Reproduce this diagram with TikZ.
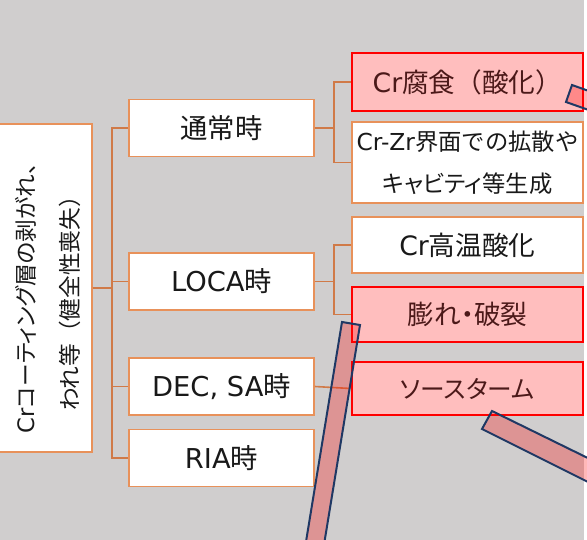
\documentclass[tikz,border=0pt]{standalone}
\usepackage{fontspec}
\setmainfont{Noto Sans CJK JP}
\newfontfamily\jp[RawFeature=+palt]{Noto Sans CJK JP}
\newfontfamily\lat{DejaVu Sans}
\usetikzlibrary{calc}
\definecolor{bg}{RGB}{208,206,206}
\definecolor{obord}{RGB}{232,145,90}
\definecolor{oline}{RGB}{208,122,72}
\definecolor{pinkfill}{RGB}{255,190,190}
\definecolor{redtext}{RGB}{75,25,25}
\definecolor{navy}{RGB}{31,56,100}
\tikzset{
  wbox/.style={draw=obord, line width=1.2pt, fill=white, inner sep=0pt, text=black!90},
  rbox/.style={draw=red, line width=2pt, fill=pinkfill, inner sep=0pt, text=redtext},
  midbox/.style={wbox, minimum width=138.75pt, minimum height=42.75pt, font=\fontsize{20.5}{24}\selectfont},
  rwide/.style={minimum width=173.25pt, font=\fontsize{20}{24}\selectfont},
  conn/.style={draw=oline, line width=1.2pt},
  bar/.style={draw=navy, line width=1.5pt, fill=red, fill opacity=0.28},
}
\begin{document}
\begin{tikzpicture}[x=0.75pt,y=-0.75pt]
\useasboundingbox (0,0) rectangle (587,540);
\clip (0,0) rectangle (587,540);
\fill[white] (0,0) rectangle (587,540);
\fill[bg] (0,0) rectangle (584,540);

% root
\node[wbox, minimum width=72.75pt, minimum height=246pt] (root) at (43.5,288) {};
\node[rotate=90, align=center, font=\fontsize{17}{33}\selectfont, text=black!90] (roottext) at (48,298)
  {{\lat Cr}{\jp コーティング層の剥がれ、}\\われ等（健全性喪失）};

% middle column
\node[midbox] (tsujo) at (221.5,128) {通常時};
\node[midbox] (loca) at (221.5,281.5) {{\lat LOCA}時};
\node[midbox] (dec) at (221.5,386.5) {{\lat DEC, SA}時};
\node[midbox] (ria) at (221.5,458) {{\lat RIA}時};

% right column
\node[rbox, rwide, minimum height=43.5pt] (crf) at (467.5,82) {{\lat Cr}腐食（酸化）};
\node[wbox, rwide, minimum height=60.75pt, align=center, font=\fontsize{17.5}{31.5}\selectfont] (crzr) at (467.5,162.5)
  {{\lat Cr-Zr}界面での拡散や\\{\jp キャビティ等生成}};
\node[wbox, rwide, minimum height=42pt] (crht) at (467.5,245) {{\lat Cr}高温酸化};
\node[rbox, rwide, minimum height=41.25pt] (fukure) at (467.5,314.5) {{\jp 膨れ・破裂}};
\node[rbox, rwide, minimum height=39.75pt, font=\fontsize{18.5}{24}\selectfont] (source) at (467.5,388.5) {{\jp ソースターム}};

% connectors
\draw[conn] (root.east) -- +(19,0) |- (tsujo.west);
\draw[conn] (root.east) -- +(19,0) |- (loca.west);
\draw[conn] (root.east) -- +(19,0) |- (dec.west);
\draw[conn] (root.east) -- +(19,0) |- (ria.west);
\draw[conn] (tsujo.east) -- +(19,0) |- (crf.west);
\draw[conn] (tsujo.east) -- +(19,0) |- (crzr.west);
\draw[conn] (loca.east) -- +(19,0) |- (crht.west);
\draw[conn] (loca.east) -- +(19,0) |- (fukure.west);
\draw[conn] (dec.east) -- (source.west);

% cut-off bars
\draw[bar] (342,322) -- (303,560) -- (321,563) -- (360,325) -- cycle;
\draw[bar] (492,411) -- (600,464) -- (600,488) -- (482,429) -- cycle;
\draw[bar] (572,85) -- (600,95) -- (600,114) -- (566,102) -- cycle;
\end{tikzpicture}
\end{document}
